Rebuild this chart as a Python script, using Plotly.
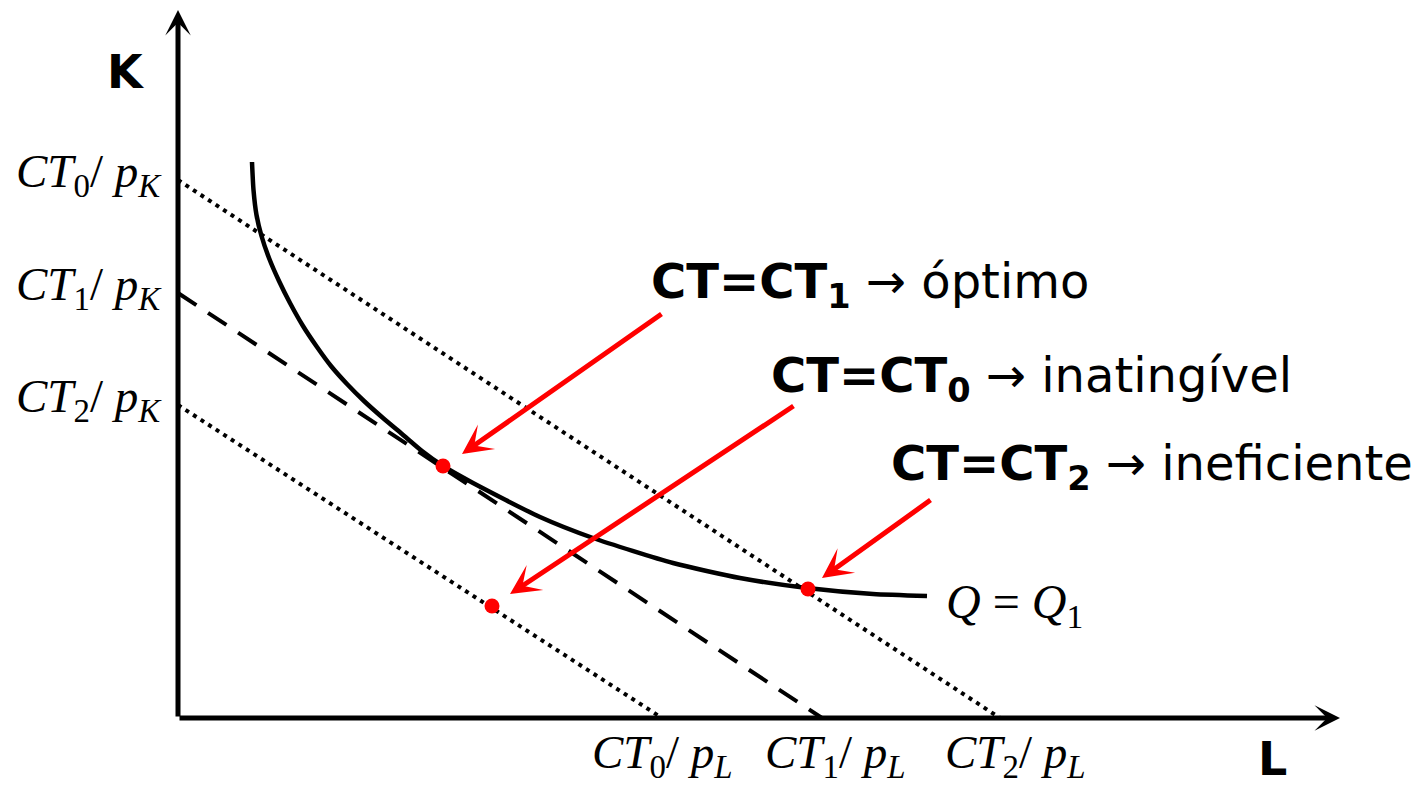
import plotly.graph_objects as go

# ---- data (economic units: L on x, K on y) ----
k_intercepts = [5.38, 4.25, 3.13]      # CT0/pK, CT1/pK, CT2/pK
l_intercepts = [8.22, 6.44, 4.84]      # end of each isocost on L axis
line_dash = ["4px,5px", "22px,14px", "4px,5px"]

k_labels = ["<i>CT</i><sub>0</sub>/<i> p</i><sub><i>K</i></sub>",
            "<i>CT</i><sub>1</sub>/<i> p</i><sub><i>K</i></sub>",
            "<i>CT</i><sub>2</sub>/<i> p</i><sub><i>K</i></sub>"]
l_label_pos = [4.84, 6.44, 8.22]
l_labels = ["<i>CT</i><sub>0</sub>/<i> p</i><sub><i>L</i></sub>",
            "<i>CT</i><sub>1</sub>/<i> p</i><sub><i>L</i></sub>",
            "<i>CT</i><sub>2</sub>/<i> p</i><sub><i>L</i></sub>"]

iso_L = [0.740, 0.755, 0.785, 0.835, 0.910, 1.010, 1.120, 1.250, 1.390, 1.530, 1.690, 1.860,
         2.050, 2.240, 2.440, 2.650, 2.950, 3.620, 4.150, 4.950, 5.620, 6.290, 6.950, 7.490]
iso_K = [5.560, 5.280, 5.030, 4.820, 4.600, 4.370, 4.150, 3.920, 3.710, 3.520, 3.340, 3.170,
         3.000, 2.840, 2.670, 2.520, 2.350, 2.010, 1.800, 1.550, 1.400, 1.300, 1.240, 1.220]

pts_L = [2.65, 3.14, 6.30]
pts_K = [2.52, 1.12, 1.29]

arrow_tail_L = [4.85, 6.17, 7.54]
arrow_tail_K = [4.05, 3.13, 2.19]
arrow_head_L = [2.84, 3.32, 6.44]
arrow_head_K = [2.64, 1.24, 1.40]

notes = ["<b>CT=CT<sub>1</sub></b> → óptimo",
         "<b>CT=CT<sub>0</sub></b> → inatingível",
         "<b>CT=CT<sub>2</sub></b> → ineficiente"]
note_L = [4.71, 5.91, 7.11]
note_K = [4.34, 3.40, 2.52]

fig = go.Figure()

for k, l, d in zip(k_intercepts, l_intercepts, line_dash):
    fig.add_trace(go.Scatter(x=[0, l], y=[k, 0], mode="lines",
                             line=dict(color="black", width=4, dash=d),
                             hoverinfo="skip"))

fig.add_trace(go.Scatter(x=iso_L, y=iso_K, mode="lines",
                         line=dict(color="black", width=4.5, shape="spline", smoothing=0.6),
                         hoverinfo="skip"))

fig.add_trace(go.Scatter(x=pts_L, y=pts_K, mode="markers",
                         marker=dict(color="#ff0000", size=15), hoverinfo="skip"))

ann = []
# axes with arrows
ann.append(dict(x=0, y=7.08, ax=0, ay=0, xref="x", yref="y", axref="x", ayref="y",
                text="", showarrow=True, arrowhead=3, arrowwidth=5, arrowsize=0.85,
                arrowcolor="black"))
ann.append(dict(x=11.62, y=0, ax=0, ay=0, xref="x", yref="y", axref="x", ayref="y",
                text="", showarrow=True, arrowhead=3, arrowwidth=5, arrowsize=0.85,
                arrowcolor="black"))
# red arrows
for tl, tk, hl, hk in zip(arrow_tail_L, arrow_tail_K, arrow_head_L, arrow_head_K):
    ann.append(dict(x=hl, y=hk, ax=tl, ay=tk, xref="x", yref="y", axref="x", ayref="y",
                    text="", showarrow=True, arrowhead=3, arrowwidth=5, arrowsize=1.0,
                    arrowcolor="#ff0000"))
# axis labels
for k, t in zip(k_intercepts, k_labels):
    ann.append(dict(x=-0.14, y=k, xref="x", yref="y", text=t, showarrow=False,
                    xanchor="right", yanchor="middle", yshift=6,
                    font=dict(family="Liberation Serif", size=47, color="black")))
for l, t, xs in zip(l_label_pos, l_labels, [0, 13, 15]):
    ann.append(dict(x=l, y=-0.37, xref="x", yref="y", text=t, showarrow=False,
                    xanchor="center", yanchor="middle", xshift=xs,
                    font=dict(family="Liberation Serif", size=47, color="black")))
ann.append(dict(x=-0.52, y=6.46, xref="x", yref="y", text="<b>K</b>", showarrow=False,
                font=dict(family="DejaVu Sans", size=46, color="black")))
ann.append(dict(x=10.94, y=-0.69, xref="x", yref="y", text="<b>L</b>", showarrow=False,
                yanchor="bottom", borderpad=0,
                font=dict(family="DejaVu Sans", size=46, color="black")))
ann.append(dict(x=7.66, y=1.13, xref="x", yref="y", text="<i>Q</i> = <i>Q</i><sub>1</sub>",
                showarrow=False, xanchor="left", yanchor="middle",
                font=dict(family="Liberation Serif", size=48, color="black")))
for t, l, k in zip(notes, note_L, note_K):
    ann.append(dict(x=l, y=k, xref="x", yref="y", text=t, showarrow=False,
                    xanchor="left", yanchor="middle",
                    font=dict(family="DejaVu Sans", size=48, color="black")))

fig.update_layout(
    width=1422, height=787, autosize=False,
    margin=dict(l=0, r=0, t=0, b=0, pad=0),
    paper_bgcolor="white", plot_bgcolor="white",
    showlegend=False,
    xaxis=dict(range=[-1.78, 12.44], visible=False, fixedrange=True),
    yaxis=dict(range=[-0.69, 7.18], visible=False, fixedrange=True),
    annotations=ann,
)

fig.write_html("out.html", config={"displayModeBar": False},
               post_script="document.body.style.margin='0';document.body.style.overflow='hidden';")
